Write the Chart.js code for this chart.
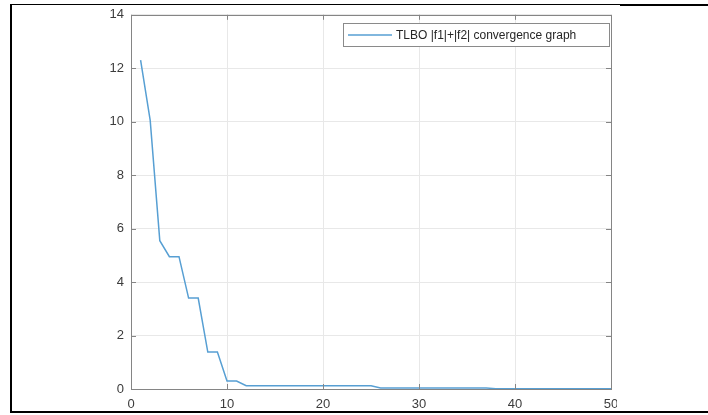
<!DOCTYPE html>
<html>
<head>
<meta charset="utf-8">
<script src="https://cdn.jsdelivr.net/npm/chart.js@4/dist/chart.umd.min.js"></script>
<style>
  html,body{margin:0;padding:0;background:#fff;}
  #wrap{position:relative;width:708px;height:415px;overflow:hidden;}
  #c{position:absolute;left:0;top:0;}
  .ln{position:absolute;background:#000;pointer-events:none;}
</style>
</head>
<body>
<div id="wrap">
  <canvas id="c" width="708" height="415"></canvas>
  <!-- page frame around the screenshot -->
  <div class="ln" style="left:10px;top:4px;width:2px;height:408px"></div>
  <div class="ln" style="left:10px;top:4px;width:610px;height:1px"></div>
  <div class="ln" style="left:620px;top:4px;width:88px;height:2px"></div>
  <div class="ln" style="left:10px;top:411px;width:698px;height:2px"></div>
  <div style="position:absolute;left:617px;top:396px;width:20px;height:14px;background:#fff"></div>
</div>
<script>
const iterations = [1,2,3,4,5,6,7,8,9,10,11,12,13,14,15,16,17,18,19,20,21,22,23,24,25,
  26,27,28,29,30,31,32,33,34,35,36,37,38,39,40,41,42,43,44,45,46,47,48,49,50];
const fitness = [12.3,10.05,5.55,4.95,4.95,3.4,3.4,1.38,1.38,0.3,0.3,0.12,0.12,0.12,0.12,0.12,0.12,0.12,0.12,0.12,0.12,0.12,0.12,0.12,0.12,
  0.04,0.04,0.04,0.04,0.04,0.04,0.04,0.04,0.04,0.04,0.04,0.04,0.01,0.01,0.01,0.01,0.01,0.01,0.01,0.01,0.01,0.01,0.01,0.01,0.01];
const xTicks = [0,10,20,30,40,50];
const yTicks = [0,2,4,6,8,10,12,14];
const seriesLabel = 'TLBO |f1|+|f2| convergence graph';

const AXIS = '#858585', GRID = '#e8e8e8', TXT = '#3c3c3c', LINE = '#579fd3';
const FONT = '"Liberation Sans", Arial, sans-serif';

// matlab-ish box: inward ticks on all four sides + top/right border
const boxPlugin = {
  id:'box',
  afterDatasetsDraw(chart){
    const {ctx, chartArea:a, scales:{x,y}} = chart;
    ctx.save();
    ctx.strokeStyle = AXIS; ctx.lineWidth = 1;
    ctx.beginPath();
    xTicks.forEach(v=>{
      const px = Math.round(x.getPixelForValue(v))+0.5;
      ctx.moveTo(px,a.bottom); ctx.lineTo(px,a.bottom-5);
      ctx.moveTo(px,a.top); ctx.lineTo(px,a.top+5);
    });
    yTicks.forEach(v=>{
      const py = Math.round(y.getPixelForValue(v))+0.5;
      ctx.moveTo(a.left,py); ctx.lineTo(a.left+5,py);
      ctx.moveTo(a.right,py); ctx.lineTo(a.right-5,py);
    });
    ctx.stroke();
    ctx.strokeRect(Math.round(a.left)+0.5, Math.round(a.top)+0.5, Math.round(a.right-a.left), Math.round(a.bottom-a.top));

    // legend box
    const lx=343.5, ly=23.5, lw=266, lh=23;
    ctx.fillStyle='#fff'; ctx.fillRect(lx,ly,lw,lh);
    ctx.strokeStyle='#8a8a8a'; ctx.strokeRect(lx,ly,lw,lh);
    ctx.strokeStyle=LINE; ctx.lineWidth=1.5;
    ctx.beginPath(); ctx.moveTo(348,35); ctx.lineTo(392,35); ctx.stroke();
    ctx.fillStyle='#262626'; ctx.font='12px '+FONT; ctx.textBaseline='middle';
    ctx.fillText(chart.data.datasets[0].label, 396, 35.5);
    ctx.restore();
  }
};

new Chart(document.getElementById('c'),{
  type:'line',
  data:{datasets:[{
    label:seriesLabel,
    data:iterations.map((it,i)=>({x:it,y:fitness[i]})),
    borderColor:LINE, borderWidth:1.5, pointRadius:0, tension:0, fill:false
  }]},
  options:{
    responsive:false, animation:false, devicePixelRatio:1,
    layout:{padding:{top:13,right:97,bottom:0,left:0}},
    plugins:{legend:{display:false},tooltip:{enabled:false}},
    scales:{
      x:{type:'linear',min:0,max:50,
        afterFit:s=>{s.height=26;},
        afterBuildTicks:s=>{s.ticks=xTicks.map(v=>({value:v}));},
        ticks:{color:TXT,font:{family:FONT,size:13},padding:8,maxRotation:0},
        grid:{color:GRID,drawTicks:false},
        border:{display:false}},
      y:{min:0,max:14,
        afterFit:s=>{s.width=131;},
        afterBuildTicks:s=>{s.ticks=yTicks.map(v=>({value:v}));},
        ticks:{color:TXT,font:{family:FONT,size:13},padding:7},
        grid:{color:GRID,drawTicks:false},
        border:{display:false}}
    }
  },
  plugins:[boxPlugin]
});
</script>
</body>
</html>
